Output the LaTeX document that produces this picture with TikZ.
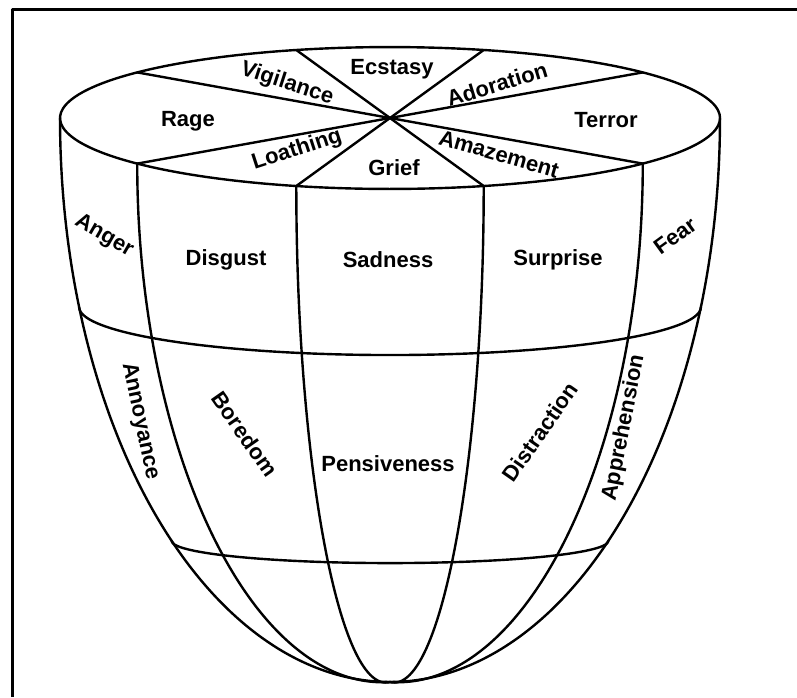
\documentclass[tikz,border=0pt]{standalone}
\usepackage{fontspec}
\setmainfont{Liberation Sans}
\pgfmathdeclarefunction{bowlx}{2}{\pgfmathparse{390+330*cos(#1)*cos(#2)}}
\pgfmathdeclarefunction{bowly}{2}{\pgfmathparse{118+564*sin(#1)+(0.215-0.2064*sin(#1)+0.0726*sin(#1)*sin(#1))*330*cos(#1)*sin(#2)}}
\begin{document}
\begin{tikzpicture}[x=1pt,y=-1pt,line width=2.4pt,line join=round,line cap=round,
  lbl/.style={font=\bfseries\fontsize{22}{22}\selectfont,inner sep=0pt},
  frameline/.style={line width=3.5pt,line cap=butt}]
\useasboundingbox (0,0) rectangle (797,697);
% frame
\draw[frameline] (12.5,697) -- (12.5,9.5) -- (797,9.5);
% top rim
\draw plot[domain=0:360,samples=120,smooth cycle,variable=\ang] ({bowlx(0,\ang)},{bowly(0,\ang)});
% spokes
\coordinate (C) at (390,118);
\foreach \ang in {40,73.5,106.5,140,220,253.5,286.5,320}
  \draw (C) -- ({bowlx(0,\ang)},{bowly(0,\ang)});
% meridians
\foreach \ang in {0,40,73.5,106.5,140,180}
  \draw plot[domain=0:90,samples=60,smooth,variable=\pp] ({bowlx(\pp,\ang)},{bowly(\pp,\ang)});
% rings
\draw plot[domain=0:180,samples=60,smooth,variable=\ang] ({bowlx(19.6,\ang)},{bowly(19.6,\ang)});
\draw plot[domain=0:180,samples=60,smooth,variable=\ang] ({bowlx(48.6,\ang)},{bowly(48.6,\ang)});
% labels
\node[lbl] (ecstasy) at (392,69) {Ecstasy};
\node[lbl,rotate=-18] (vigilance) at (287,84) {Vigilance};
\node[lbl,rotate=17] (adoration) at (497,84) {Adoration};
\node[lbl] (rage) at (188,121) {Rage};
\node[lbl] (terror) at (606,120) {Terror};
\node[lbl,rotate=18] (loathing) at (297,150) {Loathing};
\node[lbl] (grief) at (394,168) {Grief};
\node[lbl,rotate=-16] (amazement) at (499,154) {Amazement};
\node[lbl,rotate=-30] (anger) at (104,236) {Anger};
\node[lbl] (disgust) at (226,260) {Disgust};
\node[lbl] (sadness) at (388,260) {Sadness};
\node[lbl] (surprise) at (558,260) {Surprise};
\node[lbl,rotate=36] (fear) at (675,236) {Fear};
\node[lbl,rotate=-78] (annoyance) at (140,421) {Annoyance};
\node[lbl,rotate=-55] (boredom) at (245,434) {Boredom};
\node[lbl] (pensiveness) at (388,464) {Pensiveness};
\node[lbl,rotate=55] (distraction) at (540,432) {Distraction};
\node[lbl,rotate=79] (apprehension) at (624,428) {Apprehension};
\end{tikzpicture}
\end{document}
